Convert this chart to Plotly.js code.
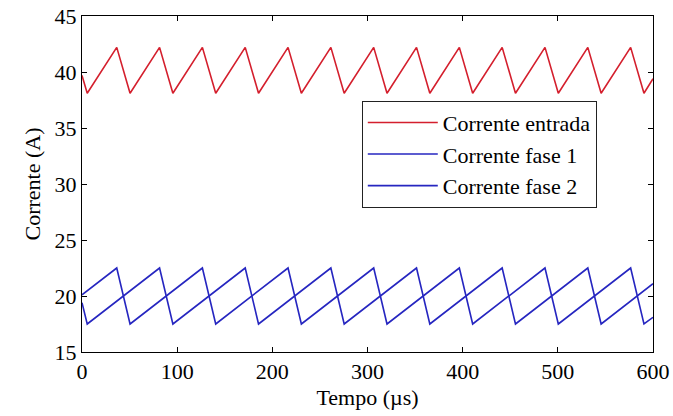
<!DOCTYPE html>
<html>
<head>
<meta charset="utf-8">
<script src="https://cdn.plot.ly/plotly-3.0.1.min.js"></script>
<style>
html,body{margin:0;padding:0;background:#fff;}
#chart{width:673px;height:416px;}
</style>
</head>
<body>
<div id="chart"></div>
<script>
// Time vertices (µs) and current values (A)
const tEntrada = [0, 5.5, 36.5, 50.5, 81.5, 95.5, 126.5, 140.5, 171.5, 185.5, 216.5, 230.5, 261.5, 275.5, 306.5, 320.5, 351.5, 365.5, 396.5, 410.5, 441.5, 455.5, 486.5, 500.5, 531.5, 545.5, 576.5, 590.5, 600];
const iEntrada = [39.7, 38.1, 42.2, 38.1, 42.2, 38.1, 42.2, 38.1, 42.2, 38.1, 42.2, 38.1, 42.2, 38.1, 42.2, 38.1, 42.2, 38.1, 42.2, 38.1, 42.2, 38.1, 42.2, 38.1, 42.2, 38.1, 42.2, 38.1, 39.4];

const tFase1 = [0, 36.5, 50.5, 126.5, 140.5, 216.5, 230.5, 306.5, 320.5, 396.5, 410.5, 486.5, 500.5, 576.5, 590.5, 600];
const iFase1 = [20.1, 22.5, 17.5, 22.5, 17.5, 22.5, 17.5, 22.5, 17.5, 22.5, 17.5, 22.5, 17.5, 22.5, 17.5, 18.1];

const tFase2 = [0, 5.5, 81.5, 95.5, 171.5, 185.5, 261.5, 275.5, 351.5, 365.5, 441.5, 455.5, 531.5, 545.5, 600];
const iFase2 = [19.4, 17.5, 22.5, 17.5, 22.5, 17.5, 22.5, 17.5, 22.5, 17.5, 22.5, 17.5, 22.5, 17.5, 21.1];

const seriesNames = ["Corrente entrada", "Corrente fase 1", "Corrente fase 2"];
const xTicks = [0, 100, 200, 300, 400, 500, 600];
const yTicks = [15, 20, 25, 30, 35, 40, 45];

const RED = "#d41f2d";
const BLUE = "#2626c0";
const FONT = "Liberation Serif, Times New Roman, serif";

const traces = [
  {x: tEntrada, y: iEntrada, name: seriesNames[0], mode: "lines", line: {color: RED, width: 1.6}},
  {x: tFase1, y: iFase1, name: seriesNames[1], mode: "lines", line: {color: BLUE, width: 1.6}},
  {x: tFase2, y: iFase2, name: seriesNames[2], mode: "lines", line: {color: BLUE, width: 1.6}}
];

const axisCommon = {
  showline: true, mirror: "ticks", linecolor: "#000", linewidth: 1,
  ticks: "inside", ticklen: 5, tickcolor: "#000", tickwidth: 1,
  showgrid: false, zeroline: false,
  tickfont: {family: FONT, size: 22, color: "#000"}
};

const layout = {
  width: 673, height: 416,
  margin: {l: 82, r: 20, t: 16, b: 64},
  paper_bgcolor: "#fff", plot_bgcolor: "#fff",
  showlegend: true,
  legend: {
    x: 0.49, y: 0.748, xanchor: "left", yanchor: "top",
    bgcolor: "#fff", bordercolor: "#222", borderwidth: 1,
    font: {family: FONT, size: 22, color: "#000"},
    itemwidth: 70
  },
  xaxis: Object.assign({}, axisCommon, {
    range: [0, 600], tickvals: xTicks, ticktext: xTicks.map(String),
    title: {text: "Tempo (µs)", font: {family: FONT, size: 22, color: "#000"}, standoff: 6}
  }),
  yaxis: Object.assign({}, axisCommon, {
    range: [15, 45], tickvals: yTicks, ticktext: yTicks.map(String),
    title: {text: "Corrente (A)", font: {family: FONT, size: 22, color: "#000"}, standoff: 7}
  })
};

Plotly.newPlot("chart", traces, layout, {displayModeBar: false, staticPlot: true});
</script>
</body>
</html>
